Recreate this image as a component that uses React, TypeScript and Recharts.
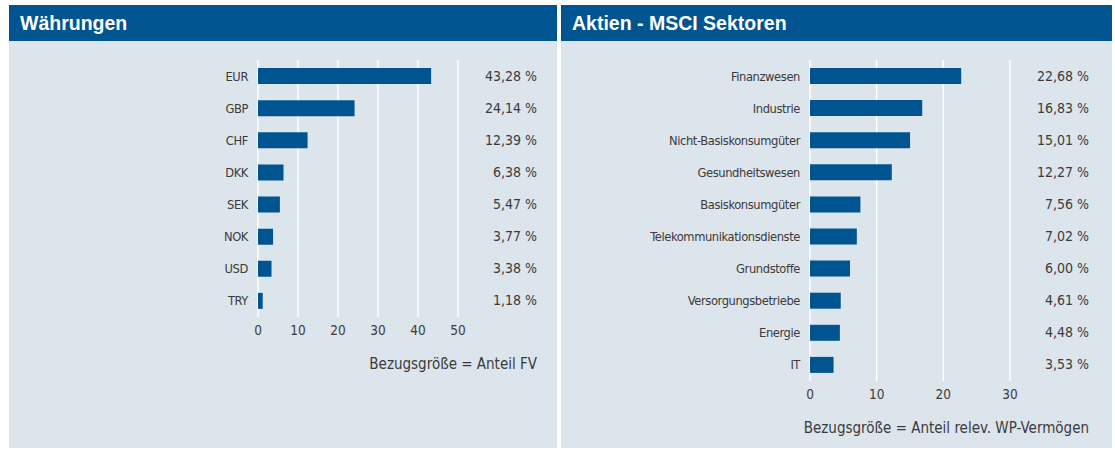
import { BarChart, Bar, XAxis, YAxis, CartesianGrid } from 'recharts';

const currencies = ['EUR', 'GBP', 'CHF', 'DKK', 'SEK', 'NOK', 'USD', 'TRY'];
const currencyValues = [43.28, 24.14, 12.39, 6.38, 5.47, 3.77, 3.38, 1.18];
const currencyTicks = [0, 10, 20, 30, 40, 50];

const sectors = [
  'Finanzwesen',
  'Industrie',
  'Nicht-Basiskonsumgüter',
  'Gesundheitswesen',
  'Basiskonsumgüter',
  'Telekommunikationsdienste',
  'Grundstoffe',
  'Versorgungsbetriebe',
  'Energie',
  'IT',
];
const sectorValues = [22.68, 16.83, 15.01, 12.27, 7.56, 7.02, 6.0, 4.61, 4.48, 3.53];
const sectorTicks = [0, 10, 20, 30];

const BLUE = '#00548f';
const PANEL_BG = '#dce4ec';
const TEXT = '#3b3b3b';
const FONT = '"Liberation Sans Narrow", "DejaVu Sans Condensed", "Liberation Sans", sans-serif';

const ROW = 32;
const VALUE_COL = 79;

const fmt = (v: number) => v.toFixed(2).replace('.', ',') + ' %';

const ValueTick = (props: any) => (
  <text x={props.x + VALUE_COL} y={props.y} dy={4.5} textAnchor="end" fill={TEXT} fontSize={14} fontFamily={FONT}>
    {props.payload.value}
  </text>
);

interface PanelProps {
  title: string;
  names: string[];
  values: number[];
  ticks: number[];
  left: number;
  width: number;
  note: string;
}

function Panel({ title, names, values, ticks, left, width, note }: PanelProps) {
  const data = names.map((n, i) => ({ name: n, value: values[i], label: fmt(values[i]) }));
  const plotH = names.length * ROW + 1;
  const chartH = 19 + plotH + 30 + 4;
  const max = ticks[ticks.length - 1];

  return (
    <div style={{ position: 'absolute', left, top: 5, width, height: 443 }}>
      <div
        style={{
          height: 36,
          background: BLUE,
          color: '#fff',
          fontFamily: '"Liberation Sans", Arial, sans-serif',
          fontWeight: 'bold',
          fontSize: 19.5,
          lineHeight: '36px',
          paddingLeft: 11,
        }}
      >
        {title}
      </div>
      <div style={{ position: 'relative', height: 407, background: PANEL_BG }}>
        <BarChart
          width={width}
          height={chartH}
          data={data}
          layout="vertical"
          margin={{ top: 19, right: width - 249 - 200 - VALUE_COL, left: 0, bottom: 4 }}
        >
          <CartesianGrid horizontal={false} stroke="#ffffff" strokeWidth={1.5} />
          <XAxis
            type="number"
            domain={[0, max]}
            ticks={ticks}
            axisLine={false}
            tickLine={false}
            tickSize={0}
            tickMargin={8}
            height={30}
            tick={{ fill: TEXT, fontSize: 13.5, fontFamily: FONT }}
          />
          <YAxis
            yAxisId="left"
            type="category"
            dataKey="name"
            width={249}
            axisLine={false}
            tickLine={false}
            tickSize={0}
            tickMargin={10}
            interval={0}
            tick={{ fill: TEXT, fontSize: 12.8, fontFamily: FONT, letterSpacing: -0.4 }}
          />
          <YAxis
            yAxisId="right"
            orientation="right"
            type="category"
            dataKey="label"
            width={VALUE_COL}
            axisLine={false}
            tickLine={false}
            tickSize={0}
            tickMargin={0}
            interval={0}
            tick={ValueTick}
          />
          <Bar yAxisId="left" dataKey="value" fill={BLUE} barSize={16} isAnimationActive={false} />
        </BarChart>
        <div
          style={{
            position: 'absolute',
            top: chartH + 4,
            right: width - 249 - 200 - VALUE_COL,
            fontFamily: FONT,
            fontSize: 15,
            color: TEXT,
            whiteSpace: 'nowrap',
          }}
        >
          {note}
        </div>
      </div>
    </div>
  );
}

export default function App() {
  return (
    <div style={{ position: 'absolute', left: 0, top: 0, width: 1115, height: 450, background: '#fff', overflow: 'hidden' }}>
      <Panel
        title="Währungen"
        names={currencies}
        values={currencyValues}
        ticks={currencyTicks}
        left={9}
        width={548}
        note="Bezugsgröße = Anteil FV"
      />
      <Panel
        title="Aktien - MSCI Sektoren"
        names={sectors}
        values={sectorValues}
        ticks={sectorTicks}
        left={561}
        width={551}
        note="Bezugsgröße = Anteil relev. WP-Vermögen"
      />
    </div>
  );
}
